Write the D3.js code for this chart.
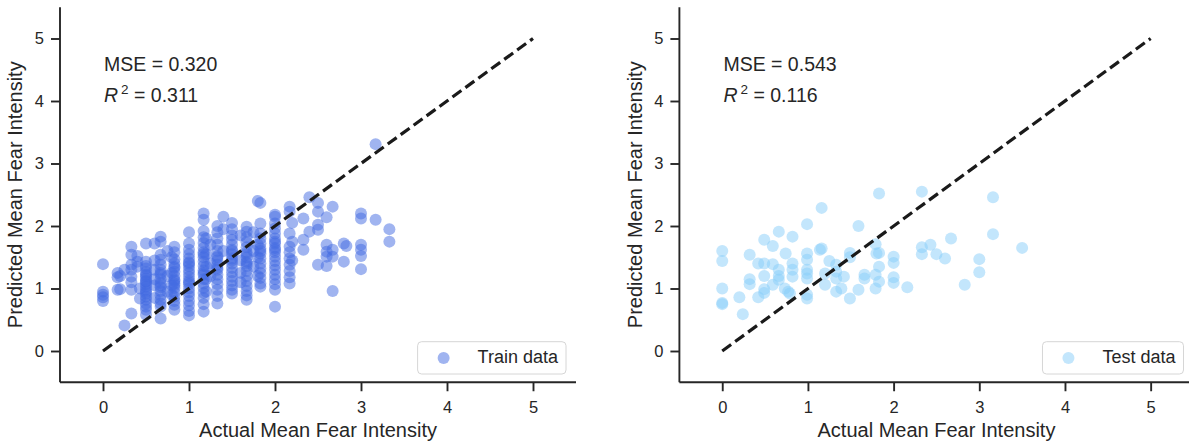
<!DOCTYPE html>
<html>
<head>
<meta charset="utf-8">
<script src="https://cdn.jsdelivr.net/npm/d3@7"></script>
<style>
  body { margin: 0; background: #ffffff; }
  svg text { font-family: "Liberation Sans", Arial, sans-serif; fill: #262626; }
</style>
</head>
<body>
<svg id="chart" width="1189" height="446"></svg>
<script>
// Training set: actual mean intensity per column and the predictions at each
const trainColumns = [0.00, 0.17, 0.20, 0.25, 0.33, 0.40, 0.43, 0.50, 0.60, 0.67, 0.75, 0.80, 0.83,
  1.00, 1.17, 1.20, 1.25, 1.33, 1.40, 1.50, 1.60, 1.67, 1.75, 1.80, 1.83, 2.00, 2.17, 2.20,
  2.33, 2.40, 2.50, 2.60, 2.67, 2.80, 2.83, 3.00, 3.17, 3.33];
const trainPredicted = [
  [1.39, 0.95, 0.90, 0.86, 0.80],
  [1.25, 1.18, 0.98],
  [1.20, 0.99],
  [1.30, 0.41],
  [1.67, 1.54, 1.38, 1.30, 1.19, 1.10, 0.98, 0.60],
  [1.52, 1.43, 1.35],
  [1.00, 0.84],
  [1.72, 1.43, 1.36, 1.32, 1.26, 1.22, 1.16, 1.11, 1.07, 1.03, 0.98, 0.92, 0.87, 0.82, 0.76, 0.71, 0.66, 0.58, 1.12, 0.95, 1.20],
  [1.72, 1.45, 1.30, 1.15, 1.05, 0.85],
  [1.83, 1.75, 1.54, 1.46, 1.38, 1.30, 1.22, 1.15, 1.09, 1.02, 0.96, 0.89, 0.82, 0.76, 0.71, 0.52, 1.05, 1.25],
  [1.60, 1.20, 0.95],
  [1.50, 1.25, 1.05, 0.90],
  [1.67, 1.58, 1.47, 1.40, 1.33, 1.27, 1.20, 1.14, 1.12, 1.08, 1.01, 0.94, 0.87, 0.80, 0.74, 0.66, 1.05, 1.35],
  [1.90, 1.72, 1.62, 1.55, 1.48, 1.42, 1.36, 1.30, 1.25, 1.19, 1.13, 1.07, 1.00, 0.94, 0.88, 0.80, 0.73, 0.64, 0.57, 1.10, 1.40],
  [2.20, 2.10, 1.92, 1.82, 1.73, 1.65, 1.58, 1.50, 1.43, 1.36, 1.29, 1.22, 1.15, 1.08, 1.01, 0.93, 0.85, 0.75, 0.63, 1.55, 1.25],
  [1.80, 1.55, 1.35, 1.15, 0.95],
  [1.70, 1.40, 1.20],
  [2.00, 1.90, 1.80, 1.70, 1.60, 1.52, 1.45, 1.38, 1.30, 1.22, 1.15, 1.07, 0.98, 0.88, 0.76, 1.50, 1.33],
  [2.15, 1.95, 1.60],
  [2.05, 1.95, 1.85, 1.78, 1.70, 1.62, 1.55, 1.48, 1.40, 1.33, 1.26, 1.19, 1.12, 1.05, 0.98, 0.92, 1.60, 1.45],
  [1.85, 1.45, 1.25, 1.10],
  [1.99, 1.91, 1.82, 1.74, 1.66, 1.58, 1.50, 1.43, 1.36, 1.28, 1.20, 1.12, 1.04, 0.96, 0.89, 0.82, 1.55, 1.40],
  [1.90, 1.60, 1.35],
  [2.40, 1.70, 1.50, 1.20],
  [2.37, 2.04, 1.88, 1.80, 1.72, 1.64, 1.56, 1.48, 1.40, 1.32, 1.25, 1.17, 1.08, 1.03, 1.60],
  [2.18, 2.15, 2.04, 1.96, 1.88, 1.80, 1.72, 1.65, 1.58, 1.51, 1.44, 1.37, 1.30, 1.22, 1.15, 1.07, 0.98, 0.71, 1.62, 1.75],
  [2.31, 2.23, 1.88, 1.67, 1.58, 1.48, 1.38, 1.28, 1.18, 1.08],
  [2.05, 1.75, 1.45],
  [2.12, 1.78, 1.62],
  [2.46, 1.91],
  [2.37, 2.23, 2.02, 1.94, 1.38],
  [2.14, 1.70, 1.59, 1.51, 1.36],
  [2.31, 1.62, 1.51, 0.96],
  [1.72, 1.43],
  [1.68],
  [2.20, 2.12, 1.70, 1.62, 1.52, 1.31],
  [3.31, 2.10],
  [1.95, 1.75]
];

// Held-out test set
const testActual = [
  0.00, 0.00, 0.00, 0.00, 0.00, 0.20, 0.24, 0.32, 0.32, 0.32, 0.42, 0.42,
  0.49, 0.49, 0.49, 0.49, 0.49, 0.59, 0.59, 0.59, 0.66, 0.66, 0.66, 0.66,
  0.74, 0.73, 0.77, 0.82, 0.82, 0.82, 0.82, 0.79,
  0.99, 0.99, 0.99, 0.99, 0.99, 0.99, 0.99, 0.99,
  1.16, 1.14, 1.16, 1.25, 1.20, 1.20, 1.33, 1.33, 1.33, 1.33, 1.39, 1.42,
  1.49, 1.49, 1.49, 1.59, 1.59, 1.66, 1.66,
  1.79, 1.80, 1.83, 1.83, 1.83, 1.79, 1.79, 1.83,
  2.00, 2.00, 2.00, 2.00, 2.16,
  2.33, 2.33, 2.33, 2.43, 2.50, 2.60, 2.67, 2.83,
  3.00, 3.00, 3.16, 3.16, 3.50
];
const testPredicted = [
  1.60, 1.44, 1.00, 0.77, 0.75, 0.86, 0.59, 1.54, 1.15, 1.07, 1.40, 0.86,
  1.78, 1.40, 1.20, 0.99, 0.93, 1.68, 1.39, 1.06, 1.91, 1.30, 1.20, 1.14,
  1.56, 1.00, 0.95, 1.83, 1.40, 1.30, 1.19, 0.92,
  2.03, 1.56, 1.46, 1.30, 1.24, 1.16, 0.90, 0.84,
  2.29, 1.62, 1.64, 1.44, 1.24, 1.06, 1.38, 1.27, 1.16, 0.95, 1.00, 1.19,
  1.57, 1.50, 0.84, 2.00, 0.98, 1.22, 1.16,
  1.71, 1.56, 2.52, 1.57, 1.35, 1.22, 1.00, 1.11,
  1.51, 1.41, 1.18, 1.09, 1.02,
  2.55, 1.66, 1.55, 1.70, 1.55, 1.48, 1.80, 1.06,
  1.47, 1.26, 2.46, 1.87, 1.65
];

const tickValues = [0, 1, 2, 3, 4, 5];
const axisDomain = [-0.5, 5.5];
const panelNames = ["Train data", "Test data"];
const panelMSE = ["0.320", "0.543"];
const panelR2 = ["0.311", "0.116"];
const panelColors = ["#4169e1", "#87cefa"];
const identityLine = [[0, 0], [5, 5]];

const trainPoints = trainColumns.flatMap((x, i) => trainPredicted[i].map(y => ({ x, y })));
const testPoints = testActual.map((x, i) => ({ x, y: testPredicted[i] }));
const panelPoints = [trainPoints, testPoints];

const svg = d3.select("#chart");
const ink = "#262626";
const plotTop = 7.25, plotBottom = 382.25;
const panelLeft = [60, 679.4];
const panelRight = [576, 1193.5];

panelPoints.forEach((points, p) => {
  const x = d3.scaleLinear().domain(axisDomain).range([panelLeft[p], panelRight[p]]);
  const y = d3.scaleLinear().domain(axisDomain).range([plotBottom, plotTop]);
  const g = svg.append("g");

  // points
  g.append("g").selectAll("circle").data(points).join("circle")
    .attr("cx", d => x(d.x))
    .attr("cy", d => y(d.y))
    .attr("r", 6)
    .attr("fill", panelColors[p])
    .attr("fill-opacity", 0.5);

  // y = x reference
  g.append("path")
    .datum(identityLine)
    .attr("d", d3.line().x(d => x(d[0])).y(d => y(d[1])))
    .attr("fill", "none")
    .attr("stroke", "#1a1a1a")
    .attr("stroke-width", 3.2)
    .attr("stroke-dasharray", "11,5");

  // axes
  const fmt = d3.format("d");
  const xAxis = g.append("g").attr("transform", `translate(0,${plotBottom})`)
    .call(d3.axisBottom(x).tickValues(tickValues).tickFormat(fmt).tickSize(9).tickSizeOuter(0).tickPadding(10));
  const yAxis = g.append("g").attr("transform", `translate(${panelLeft[p]},0)`)
    .call(d3.axisLeft(y).tickValues(tickValues).tickFormat(fmt).tickSize(9).tickSizeOuter(0).tickPadding(7));
  [xAxis, yAxis].forEach(a => {
    a.select(".domain").remove();
    a.selectAll(".tick line").attr("stroke", ink).attr("stroke-width", 1.9);
    a.selectAll(".tick text").attr("font-size", 16.5).attr("fill", ink)
      .style("font-family", '"Liberation Sans", Arial, sans-serif');
  });
  g.append("line").attr("x1", panelLeft[p]).attr("x2", panelLeft[p])
    .attr("y1", plotTop).attr("y2", plotBottom).attr("stroke", ink).attr("stroke-width", 1.9);
  g.append("line").attr("x1", panelLeft[p]).attr("x2", panelRight[p])
    .attr("y1", plotBottom).attr("y2", plotBottom).attr("stroke", ink).attr("stroke-width", 1.9);

  // axis titles
  g.append("text")
    .attr("x", (panelLeft[p] + panelRight[p]) / 2)
    .attr("y", 437.3)
    .attr("text-anchor", "middle")
    .attr("font-size", 20)
    .text("Actual Mean Fear Intensity");
  g.append("text")
    .attr("transform", `translate(${panelLeft[p] - 37.7},${(plotTop + plotBottom) / 2}) rotate(-90)`)
    .attr("text-anchor", "middle")
    .attr("font-size", 20)
    .text("Predicted Mean Fear Intensity");

  // metrics
  const tx = panelLeft[p] + 44;
  g.append("text").attr("x", tx).attr("y", 70.7).attr("font-size", 19.5)
    .text(`MSE = ${panelMSE[p]}`);
  const r2 = g.append("text").attr("x", tx).attr("y", 101.7).attr("font-size", 19.5);
  r2.append("tspan").attr("font-style", "italic").text("R");
  r2.append("tspan").attr("font-size", 13.5).attr("dx", 3).attr("dy", -8).text("2");
  r2.append("tspan").attr("dy", 8).text(` = ${panelR2[p]}`);

  // legend
  const legend = g.append("g");
  const boxRight = panelRight[p] - 10;
  const label = legend.append("text").attr("y", 363.3).attr("font-size", 18).text(panelNames[p]);
  const w = label.node().getComputedTextLength();
  const textX = boxRight - 8 - w;
  label.attr("x", textX);
  const markerX = textX - 34;
  const boxLeft = markerX - 26;
  legend.insert("rect", "text")
    .attr("x", boxLeft).attr("y", 341.7)
    .attr("width", boxRight - boxLeft).attr("height", 32.3)
    .attr("rx", 4)
    .attr("fill", "#ffffff").attr("fill-opacity", 0.8)
    .attr("stroke", "#d6d6d6").attr("stroke-width", 1);
  legend.insert("circle", "text")
    .attr("cx", markerX).attr("cy", 358).attr("r", 6)
    .attr("fill", panelColors[p]).attr("fill-opacity", 0.5);
});
</script>
</body>
</html>
